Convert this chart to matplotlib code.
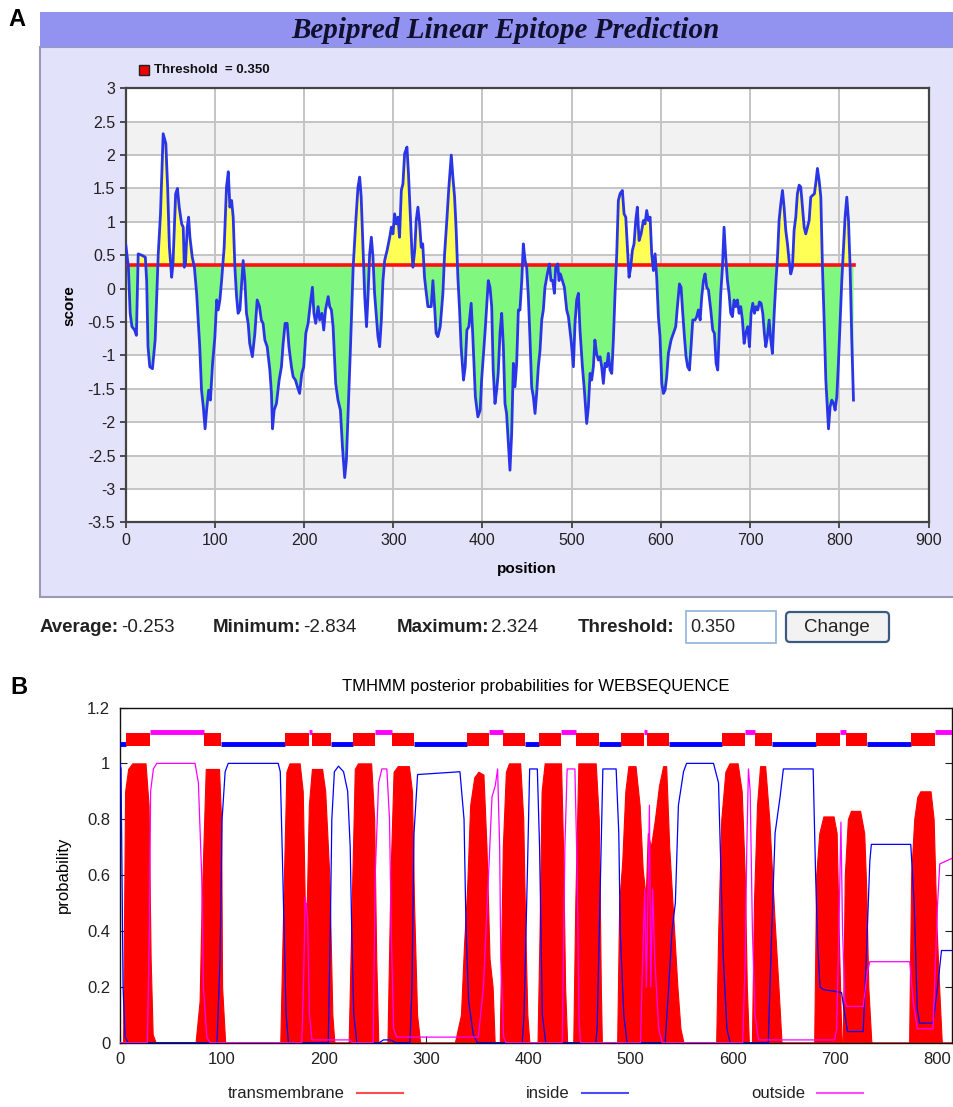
import matplotlib

matplotlib.use("Agg")
import matplotlib.pyplot as plt
import numpy as np
from matplotlib.patches import FancyBboxPatch, Rectangle

W, H = 954, 1107

# ---- panel A: Bepipred score (position, score)
EPI_POS = [
    0, 3, 5, 7, 10, 12, 14, 18, 22, 23.5, 25, 27, 30, 33, 36.5, 39, 42, 45, 47, 49,
    51.5, 53, 56, 58, 60, 62.7, 64.5, 65.7, 67, 69, 70.5, 72, 74.6, 77, 79.5, 83, 85, 87, 89, 90.7,
    93, 95, 97.4, 100, 102, 103.7, 105.6, 107.5, 110.4, 113, 115, 116.8, 118.7, 120.5, 122.4, 124.3, 126, 128, 130, 131.7,
    133.6, 135.4, 137.3, 139, 142, 144.8, 147.4, 150, 152, 154, 156, 158.6, 161.6, 163.4, 164.6, 166.4, 169, 172, 174.6, 176.5,
    178.7, 181, 183, 185.8, 187.7, 190.3, 192.5, 195, 197.4, 199.6, 201.9, 204.5, 207, 209.3, 211, 213, 215.7, 217.5, 220, 222,
    224, 227, 228.7, 230.6, 232.5, 235.4, 238, 240.7, 243, 245.5, 247.4, 249.3, 252, 255, 258, 260.4, 262.3, 264, 266, 268,
    270, 271.6, 273.5, 275.4, 277.2, 279, 281, 282.8, 284.7, 286.6, 288.4, 290.3, 293, 296, 297.8, 299.6, 301.5, 303.4, 305.2, 307,
    309, 310.8, 312.7, 315.3, 317, 319, 321, 322, 324, 325.7, 327.6, 329.5, 331.3, 333, 335, 337, 338.8, 342.5, 344.4, 346.3,
    348, 350, 352.6, 355.6, 357.5, 360, 362.3, 365, 366.8, 368.7, 370.5, 372.4, 374.3, 376, 378.7, 380.6, 382.5, 384.7, 387.3, 389,
    392, 394.8, 397.4, 399, 403, 406.5, 408.4, 410.3, 412, 414, 415.9, 417.6, 419.6, 421.5, 423.4, 425.2, 427, 429, 430.8, 432.7,
    434.6, 436.4, 438.3, 440.2, 442, 444, 445.8, 447.7, 449.5, 451.4, 453.3, 455.1, 457, 458.9, 460.7, 462.6, 464.5, 466.4, 468.2, 470,
    472.7, 475, 476.8, 478.7, 480.6, 482, 484.3, 485.8, 487.3, 489.5, 491.8, 494.4, 496.3, 499.3, 501.9, 503.7, 505.6, 507.5, 509.3, 512,
    514.2, 516.8, 518.7, 520.6, 522.4, 524.3, 526, 527.9, 529.9, 531.8, 533.6, 535.5, 537.4, 539.3, 541.1, 543, 544.9, 546.7, 548.6, 550.5,
    552.3, 554.2, 556.8, 558.7, 560.6, 562.4, 564.3, 566.2, 568, 569.9, 571.8, 573.6, 575.5, 577.8, 580.4, 582.2, 584.1, 586, 587.9, 589.7,
    591.6, 593.5, 595.3, 597.2, 599, 601, 602.8, 604.7, 606.5, 608.4, 611.4, 614, 616.6, 618.5, 620.8, 622.6, 624.5, 626.4, 628.2, 630,
    632, 633.8, 635.7, 638.3, 640.2, 642, 644, 645.8, 647.7, 649.5, 651.4, 653.3, 655.9, 658.1, 660, 661.9, 663.7, 665.2, 667.1, 669,
    670.8, 672.7, 674.6, 676.4, 678.3, 680.2, 682, 684, 685.8, 687.7, 689.5, 691.4, 693.3, 695.1, 697.4, 699.3, 701.1, 703, 704.9, 706.7,
    708.6, 710.5, 712.3, 714.2, 716, 717.6, 719.4, 721.3, 723.2, 725, 727, 728.8, 730.7, 732.5, 734.4, 736.3, 738.1, 740, 741.9, 743.7,
    745.6, 747.5, 749.3, 751.2, 753, 755, 756.8, 758.7, 760.6, 762.4, 764.3, 766.2, 768, 770.3, 772.1, 774, 775.5, 777.4, 779.3, 781.1,
    783, 784.9, 786.7, 787.9, 789.7, 791.6, 793.5, 795.3, 797.2, 799, 801, 802.8, 804.7, 806.5, 808.4, 810.3, 812.1, 814, 815.9,
]
EPI_SCORE = [
    0.67, 0.32, -0.37, -0.57, -0.62, -0.70, 0.52, 0.50, 0.47, 0.12, -0.87, -1.17, -1.20, -0.77, 0.52, 1.12, 2.32, 2.17, 1.52, 0.62,
    0.17, 0.37, 1.42, 1.50, 1.22, 0.97, 0.92, 0.32, 0.37, 0.92, 1.07, 0.77, 0.47, 0.32, -0.07, -0.87, -1.52, -1.77, -2.10, -1.82,
    -1.52, -1.67, -1.12, -0.72, -0.17, -0.32, -0.17, 0.12, 0.62, 1.52, 1.75, 1.22, 1.32, 1.07, 0.32, -0.12, -0.37, -0.32, 0.07, 0.42,
    0.12, -0.37, -0.52, -0.82, -1.02, -0.67, -0.17, -0.27, -0.47, -0.52, -0.77, -0.87, -1.22, -1.57, -2.10, -1.82, -1.72, -1.37, -1.17, -0.82,
    -0.52, -0.52, -0.87, -1.17, -1.32, -1.37, -1.47, -1.57, -1.27, -1.17, -0.67, -0.52, -0.22, 0.02, -0.37, -0.52, -0.27, -0.47, -0.37, -0.62,
    -0.32, -0.12, -0.27, -0.32, -0.57, -1.42, -1.67, -1.82, -2.37, -2.83, -2.57, -1.87, -0.87, 0.32, 1.02, 1.52, 1.67, 1.37, 0.62, -0.12,
    -0.57, -0.12, 0.52, 0.77, 0.47, -0.07, -0.42, -0.72, -0.87, -0.47, 0.12, 0.42, 0.57, 0.77, 0.92, 0.82, 1.12, 0.97, 1.07, 0.77,
    1.47, 1.57, 2.02, 2.12, 1.72, 1.12, 0.52, 0.32, 0.57, 1.02, 1.22, 0.97, 0.62, 0.67, 0.17, -0.07, -0.27, -0.27, 0.12, -0.27,
    -0.67, -0.72, -0.57, -0.07, 0.52, 1.02, 1.52, 2.00, 1.67, 1.37, 0.87, 0.17, -0.32, -0.87, -1.37, -1.17, -0.62, -0.57, -0.22, -0.67,
    -1.62, -1.92, -1.82, -1.37, -0.62, 0.12, 0.02, -0.27, -1.22, -1.72, -1.52, -1.27, -0.67, -0.37, -0.87, -1.72, -1.87, -2.32, -2.72, -2.17,
    -1.12, -1.47, -1.12, -0.32, -0.32, 0.12, 0.67, 0.42, 0.32, -0.12, -0.77, -1.47, -1.62, -1.87, -1.57, -1.17, -0.92, -0.47, -0.32, 0.02,
    0.22, 0.37, 0.12, 0.12, -0.07, 0.32, 0.37, 0.12, 0.22, 0.12, 0.02, -0.32, -0.42, -0.77, -1.17, -0.52, -0.17, -0.07, -0.62, -1.17,
    -1.52, -2.02, -1.77, -1.27, -1.37, -1.17, -0.77, -0.97, -1.07, -1.02, -1.17, -1.42, -1.12, -1.17, -0.97, -1.22, -1.27, -0.77, -0.07, 0.52,
    1.32, 1.42, 1.47, 1.12, 1.07, 0.62, 0.17, 0.32, 0.57, 0.67, 1.02, 1.22, 0.72, 0.82, 1.02, 0.97, 1.17, 1.02, 1.07, 0.52,
    0.27, 0.52, 0.17, -0.42, -0.72, -1.42, -1.57, -1.52, -1.32, -0.97, -0.77, -0.67, -0.57, -0.27, 0.07, 0.02, -0.37, -0.72, -1.02, -1.17,
    -1.22, -0.87, -0.47, -0.47, -0.42, -0.32, -0.47, -0.12, 0.12, 0.22, 0.02, -0.02, -0.32, -0.62, -0.67, -1.12, -1.22, -0.72, -0.07, 0.32,
    0.92, 0.47, 0.12, -0.07, -0.37, -0.42, -0.17, -0.27, -0.17, -0.37, -0.27, -0.47, -0.82, -0.67, -0.57, -0.87, -0.37, -0.22, -0.37, -0.27,
    -0.32, -0.20, -0.22, -0.37, -0.67, -0.87, -0.72, -0.47, -0.77, -0.97, -0.37, 0.07, 0.47, 1.02, 1.27, 1.47, 1.22, 0.87, 0.67, 0.42,
    0.22, 0.32, 0.87, 1.07, 1.42, 1.55, 1.52, 1.22, 0.92, 0.82, 0.92, 1.02, 1.37, 1.40, 1.42, 1.62, 1.80, 1.62, 1.37, 0.32,
    -0.47, -1.37, -1.82, -2.10, -1.77, -1.67, -1.72, -1.82, -1.62, -1.12, -0.47, 0.12, 0.62, 1.07, 1.37, 1.02, 0.32, -0.77, -1.67,
]
THRESHOLD = 0.350
SEQ_END = 817
A_XTICKS = list(range(0, 901, 100))
A_YTICKS = [3, 2.5, 2, 1.5, 1, 0.5, 0, -0.5, -1, -1.5, -2, -2.5, -3, -3.5]
STAT_LABELS = ["Average:", "Minimum:", "Maximum:"]
STAT_VALUES = ["-0.253", "-2.834", "2.324"]

# ---- panel B: TMHMM, helices and posterior curves
TM_HELICES = [
    (6, 29), (82, 99), (162, 185), (188, 207), (228, 250), (266, 288), (340, 361), (375, 397), (410, 432),
    (447, 469), (491, 513), (516, 538), (590, 612), (622, 639), (682, 705), (711, 732), (775, 798),
]
INSIDE_SEGS = [(0, 6), (99, 162), (207, 228), (288, 340), (397, 410), (469, 491), (538, 590), (639, 682), (732, 775)]
OUTSIDE_SEGS = [(29, 82), (185, 188), (250, 266), (361, 375), (432, 447), (513, 516), (612, 622), (705, 711), (798, 815)]

TM_X = [
    0, 3, 5, 8, 12, 25, 28, 30, 32, 35,
    74, 78, 80, 84, 97, 99, 100, 103,
    157, 160, 163, 166, 176, 179, 181, 183, 185, 188, 198, 201, 205, 208, 210,
    224, 227, 230, 233, 246, 249, 251, 253,
    262, 265, 268, 272, 283, 286, 288, 291, 294,
    328, 334, 337, 340, 343, 347, 351, 356, 359, 362, 365, 367,
    372, 375, 378, 381, 392, 395, 397, 399, 401,
    409, 411, 413, 416, 432, 434, 436, 438,
    444, 446, 449, 466, 469, 471, 472,
    487, 489, 492, 495, 498, 505, 509, 512, 515, 517, 520, 524, 528, 532, 535, 538, 542, 546, 549, 552,
    584, 586, 589, 593, 597, 605, 609, 612, 614, 616,
    619, 621, 624, 627, 632, 636, 641, 645, 648,
    680, 682, 685, 689, 699, 702, 704, 706, 707,
    708, 710, 713, 716, 725, 729, 731, 733, 736,
    773, 775, 778, 781, 784, 794, 797, 800, 803, 805, 815,
]
TM_P = [
    0, 0, 0.9, 0.98, 1.0, 1.0, 0.85, 0.3, 0.03, 0,
    0, 0.15, 0.5, 0.98, 0.98, 0.8, 0.2, 0,
    0, 0.5, 0.97, 1.0, 1.0, 0.9, 0.5, 0.5, 0.85, 0.98, 0.98, 0.9, 0.6, 0.1, 0,
    0, 0.5, 0.98, 1.0, 1.0, 0.8, 0.3, 0,
    0, 0.6, 0.97, 0.99, 0.99, 0.9, 0.5, 0.1, 0,
    0, 0.1, 0.35, 0.55, 0.85, 0.95, 0.97, 0.96, 0.7, 0.3, 0.2, 0,
    0, 0.7, 0.97, 1.0, 1.0, 0.8, 0.4, 0.1, 0,
    0, 0.4, 0.9, 1.0, 1.0, 0.7, 0.2, 0,
    0, 0.5, 1.0, 1.0, 0.8, 0.2, 0,
    0, 0.5, 0.65, 0.9, 0.99, 0.99, 0.85, 0.62, 0.52, 0.75, 0.7, 0.8, 0.92, 0.99, 0.99, 0.7, 0.45, 0.2, 0.05, 0,
    0, 0.4, 0.8, 0.97, 1.0, 1.0, 0.9, 0.6, 0.2, 0,
    0, 0.5, 0.85, 0.99, 0.99, 0.8, 0.45, 0.2, 0,
    0, 0.6, 0.75, 0.81, 0.81, 0.75, 0.4, 0.1, 0,
    0, 0.6, 0.8, 0.83, 0.83, 0.75, 0.55, 0.2, 0,
    0, 0.6, 0.8, 0.88, 0.9, 0.9, 0.8, 0.4, 0.15, 0, 0,
]
INSIDE_X = [
    0, 1, 3, 5, 8,
    95, 98, 100, 103, 106, 155, 157, 159.5, 162.7, 165,
    204, 206, 207.5, 210, 214, 219, 223, 225.5, 227, 229, 232,
    254, 258, 265, 270,
    284, 286, 288, 291.5, 333, 337, 339, 341.5, 346, 350,
    394, 395.8, 399, 401.3, 408.8, 411, 413.7, 417,
    466, 467.4, 470.7, 473, 486, 488.6, 490, 493.5, 496.7,
    534, 537.5, 540.7, 544, 547, 552, 555, 581.4, 586.3, 588, 591, 594.5, 597.7,
    635, 638.4, 641.7, 646.6, 649.8, 679, 681.4, 683.4, 685.7, 689, 706.8, 710, 712.7, 728, 731, 734.5, 736,
    774.6, 777.9, 781, 783.3, 796.4, 800.9, 804.7, 815,
]
INSIDE_P = [
    1.0, 0.98, 0.2, 0.02, 0,
    0, 0.3, 0.8, 0.97, 1.0, 1.0, 0.97, 0.6, 0.1, 0,
    0, 0.4, 0.8, 0.97, 0.99, 0.97, 0.9, 0.7, 0.4, 0.1, 0,
    0, 0.01, 0.01, 0,
    0, 0.2, 0.75, 0.96, 0.97, 0.8, 0.4, 0.15, 0.03, 0,
    0, 0.1, 0.6, 0.98, 0.98, 0.7, 0.1, 0,
    0, 0.05, 0.6, 0.98, 0.98, 0.75, 0.4, 0.1, 0,
    0, 0.2, 0.4, 0.5, 0.85, 0.97, 1.0, 1.0, 0.93, 0.7, 0.3, 0.05, 0,
    0, 0.4, 0.75, 0.88, 0.98, 0.98, 0.6, 0.35, 0.2, 0.19, 0.18, 0.1, 0.04, 0.04, 0.3, 0.65, 0.71,
    0.71, 0.5, 0.12, 0.07, 0.07, 0.2, 0.33, 0.33,
]
OUTSIDE_X = [
    0, 26.8, 28.8, 30, 32.7, 36, 73.5, 76.8, 80, 81.7, 85, 88,
    178, 179.7, 181.4, 183.7, 185.6, 188, 225, 228,
    248, 250, 253.3, 256.5, 261.4, 264, 265.7, 268, 271, 351, 356, 361, 364.4, 367.6, 369.9, 371.9, 373, 375.8, 378,
    433.2, 435.8, 438, 445.6, 447.9, 449.5, 451,
    509.8, 512, 514, 515.6, 517.3, 518.6, 519.9, 521.8, 523.8, 527.7, 530.9,
    610, 612.4, 614, 615.6, 617.3, 619.5, 622, 625.4, 700, 702, 704.2, 706.2, 707.8, 710, 711.7, 728, 732, 734.5,
    773.6, 776.9, 781, 796.4, 800.9, 803, 815,
]
OUTSIDE_P = [
    0, 0, 0.4, 0.9, 0.98, 1.0, 1.0, 0.93, 0.6, 0.2, 0.02, 0,
    0, 0.2, 0.52, 0.45, 0.1, 0.01, 0.01, 0,
    0, 0.6, 0.93, 0.98, 0.98, 0.8, 0.4, 0.05, 0.02, 0.02, 0.2, 0.6, 0.88, 0.92, 0.98, 0.7, 0.3, 0.02, 0,
    0, 0.7, 0.98, 0.98, 0.6, 0.1, 0,
    0, 0.3, 0.55, 0.2, 0.55, 0.85, 0.2, 0.55, 0.3, 0.05, 0,
    0, 0.3, 0.7, 0.98, 0.9, 0.4, 0.1, 0.01, 0.01, 0.05, 0.4, 0.79, 0.4, 0.15, 0.13, 0.13, 0.25, 0.29,
    0.29, 0.15, 0.05, 0.05, 0.5, 0.64, 0.66,
]
B_XTICKS = list(range(0, 801, 100))
B_YTICKS = [0, 0.2, 0.4, 0.6, 0.8, 1, 1.2]
LEGEND_B = ["transmembrane", "inside", "outside"]
LEGEND_B_COLORS = ["#ff0000", "#0000ff", "#ff00ff"]


def px_rect(left, top, right, bottom):
    """Pixel box (origin top-left) -> figure-fraction rect."""
    return [left / W, 1 - bottom / H, (right - left) / W, (bottom - top) / H]


fig = plt.figure(figsize=(W / 100, H / 100), dpi=100)

# background canvas in pixel coordinates
bg = fig.add_axes([0, 0, 1, 1])
bg.set_xlim(0, W)
bg.set_ylim(H, 0)
bg.axis("off")

bg.add_patch(Rectangle((40, 47), 916, 550, facecolor="#e2e2fa", edgecolor="#9a9ab8", lw=1.5))
bg.add_patch(Rectangle((40, 12), 916, 35, facecolor="#9292f0", edgecolor="none"))
bg.text(505, 31, "Bepipred Linear Epitope Prediction", family="Liberation Serif",
        weight="bold", style="italic", fontsize=21, ha="center", va="center", color="#10102e")
bg.text(17, 20, "A", fontsize=17, weight="bold", ha="center", va="center", family="Liberation Sans")
bg.text(19, 688, "B", fontsize=17, weight="bold", ha="center", va="center", family="Liberation Sans")

# legend for threshold
bg.add_patch(Rectangle((139, 65), 10, 10, facecolor="#ee0000", edgecolor="#222222", lw=1))
bg.text(154, 70, f"Threshold  = {THRESHOLD:.3f}", fontsize=9.5, weight="bold",
        ha="left", va="center", family="Liberation Sans", color="#111111")

# stats line under panel A: each value follows its label directly
renderer = fig.canvas.get_renderer()
stat_label_x = [40, 213, 397]
for lx, label, val in zip(stat_label_x, STAT_LABELS, STAT_VALUES):
    t = bg.text(lx, 628, label, fontsize=13.5, weight="bold", family="Liberation Sans",
                ha="left", va="center", color="#222222")
    bb = t.get_window_extent(renderer)
    bg.text(lx + bb.width + 2, 628, val, fontsize=13.5, family="Liberation Sans", ha="left",
            va="center", color="#222222")
bg.text(578, 628, "Threshold:", fontsize=13.5, weight="bold", family="Liberation Sans",
        ha="left", va="center", color="#222222")
bg.add_patch(Rectangle((686, 611), 90, 32, facecolor="white", edgecolor="#8fb4dc", lw=1.2))
bg.text(690, 628, f"{THRESHOLD:.3f}", fontsize=13, family="Liberation Sans", ha="left",
        va="center", color="#222222")
bg.add_patch(FancyBboxPatch((786, 612), 103, 30, boxstyle="round,pad=0,rounding_size=4",
                            facecolor="#f2f2f2", edgecolor="#3c5a80", lw=1.6))
bg.text(837, 628, "Change", fontsize=13.5, family="Liberation Sans", ha="center", va="center",
        color="#222222")

# ---- panel A axes
axA = fig.add_axes(px_rect(125.7, 88.3, 928.5, 522.3))
axA.set_xlim(0, 900)
axA.set_ylim(-3.5, 3)
axA.set_facecolor("white")
for lo in [2, 1, 0, -1, -2, -3]:
    axA.axhspan(lo, lo + 0.5, color="#f2f2f2", zorder=0, lw=0)
for yv in A_YTICKS:
    axA.axhline(yv, color="#c4c4c4", lw=1.4, zorder=1)
for xv in A_XTICKS:
    axA.axvline(xv, color="#c4c4c4", lw=1.4, zorder=1)

pos = np.array(EPI_POS)
score = np.array(EPI_SCORE)
axA.fill_between(pos, score, THRESHOLD, where=score >= THRESHOLD, interpolate=True,
                 color="#ffff55", lw=0, zorder=2)
axA.fill_between(pos, score, THRESHOLD, where=score <= THRESHOLD, interpolate=True,
                 color="#80f880", lw=0, zorder=2)
axA.plot([0, SEQ_END], [THRESHOLD, THRESHOLD], color="#ff1010", lw=2.6, zorder=3)
axA.plot(pos, score, color="#2b35e8", lw=2.0, zorder=4, solid_joinstyle="round")

axA.set_xticks(A_XTICKS)
axA.set_yticks(A_YTICKS)
axA.set_yticklabels([f"{v:g}" for v in A_YTICKS])
axA.tick_params(direction="out", length=4, width=1.2, colors="#333333", labelsize=11.5,
                labelcolor="#222222")
for lab in axA.get_xticklabels() + axA.get_yticklabels():
    lab.set_family("Liberation Sans")
for sp in axA.spines.values():
    sp.set_color("#444444")
    sp.set_linewidth(1.6)
axA.set_xlabel("position", fontsize=11, weight="bold", family="Liberation Sans", labelpad=10)
axA.set_ylabel("score", fontsize=11, weight="bold", family="Liberation Sans", labelpad=8)

# ---- panel B axes
axB = fig.add_axes(px_rect(120, 707.5, 952, 1042.7))
axB.set_xlim(0, 815)
axB.set_ylim(0, 1.2)

axB.fill_between(TM_X, TM_P, 0, color="#ff0000", lw=0.8, edgecolor="#ff0000", zorder=2)
axB.plot(INSIDE_X, INSIDE_P, color="#0000ff", lw=0.9, zorder=3)
axB.plot(OUTSIDE_X, OUTSIDE_P, color="#ff00ff", lw=0.9, zorder=3)

# topology bar along the top
for s, e in INSIDE_SEGS:
    axB.plot([s, e], [1.068, 1.068], color="#0000ff", lw=3.5, solid_capstyle="butt", zorder=3)
for s, e in OUTSIDE_SEGS:
    axB.plot([s, e], [1.112, 1.112], color="#ff00ff", lw=3.5, solid_capstyle="butt", zorder=3)
for s, e in TM_HELICES:
    axB.add_patch(Rectangle((s, 1.062), e - s, 0.048, facecolor="#ff0000", edgecolor="none", zorder=4))

axB.set_xticks(B_XTICKS)
axB.set_yticks(B_YTICKS)
axB.set_yticklabels([f"{v:g}" for v in B_YTICKS])
axB.tick_params(direction="in", length=5, width=0.8, labelsize=12, colors="#222222",
                top=False, right=True, pad=7)
for lab in axB.get_xticklabels() + axB.get_yticklabels():
    lab.set_family("Liberation Sans")
for sp in axB.spines.values():
    sp.set_color("#111111")
    sp.set_linewidth(1.0)
axB.set_ylabel("probability", fontsize=12, family="Liberation Sans", labelpad=12)
axB.set_title("TMHMM posterior probabilities for WEBSEQUENCE", fontsize=12,
              family="Liberation Sans", pad=12)

# legend row under panel B
for label, color, tx in zip(LEGEND_B, LEGEND_B_COLORS, [345, 570, 805]):
    bg.text(tx, 1093, label, fontsize=12, family="Liberation Sans", ha="right", va="center",
            color="#222222")
    bg.plot([tx + 12, tx + 58], [1093, 1093], color=color, lw=1.5, alpha=0.7)

fig.savefig("out.png", dpi=100)
